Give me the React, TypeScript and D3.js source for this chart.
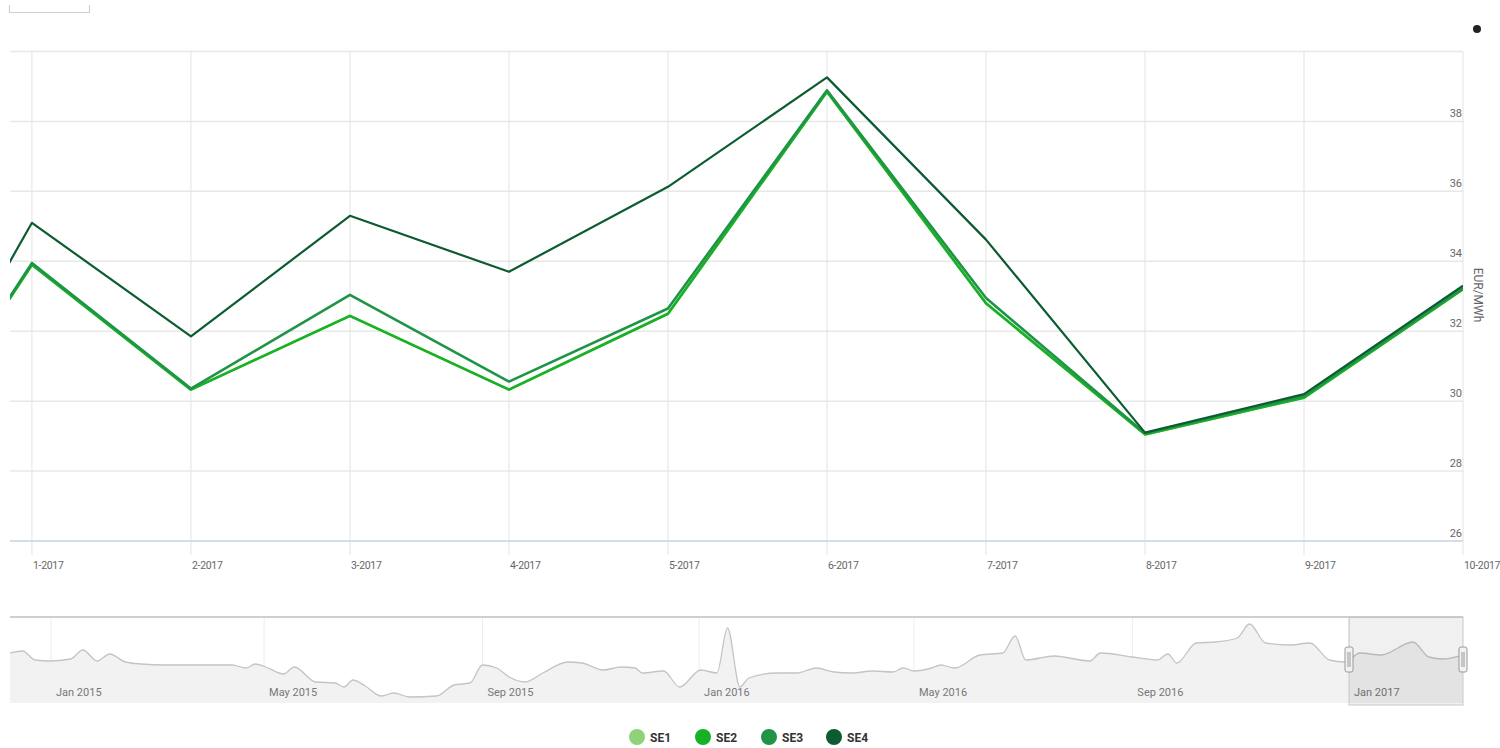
import React from "react";
import * as d3 from "d3";

const categories = ["12-2016", "1-2017", "2-2017", "3-2017", "4-2017", "5-2017", "6-2017", "7-2017", "8-2017", "9-2017", "10-2017"];
const se1 = [27.0, 33.9, 30.33, 32.44, 30.33, 32.5, 38.85, 32.8, 29.05, 30.1, 33.2];
const se2 = [27.0, 33.9, 30.33, 32.44, 30.33, 32.5, 38.85, 32.8, 29.05, 30.1, 33.2];
const se3 = [27.0, 33.95, 30.36, 33.04, 30.56, 32.65, 38.89, 32.95, 29.08, 30.15, 33.24];
const se4 = [27.1, 35.1, 31.85, 35.3, 33.7, 36.13, 39.26, 34.62, 29.1, 30.2, 33.3];
const seriesNames = ["SE1", "SE2", "SE3", "SE4"];
const seriesColors = ["#8fd27a", "#16b124", "#1f9447", "#0d5c31"];
const yTicks = [26, 28, 30, 32, 34, 36, 38, 40];
const yAxisTitle = "EUR/MWh";

const navDates = [
  "2014-12-09", "2014-12-16", "2014-12-23", "2014-12-31", "2015-01-12", "2015-01-19", "2015-01-27", "2015-02-03",
  "2015-02-12", "2015-02-21", "2015-03-06", "2015-04-13", "2015-04-21", "2015-04-26", "2015-05-02", "2015-05-12",
  "2015-05-18", "2015-05-30", "2015-06-10", "2015-06-15", "2015-06-20", "2015-06-27", "2015-07-06", "2015-07-13",
  "2015-07-22", "2015-08-06", "2015-08-16", "2015-08-25", "2015-09-01", "2015-09-09", "2015-09-16", "2015-09-25",
  "2015-10-05", "2015-10-19", "2015-10-27", "2015-11-08", "2015-11-18", "2015-11-26", "2015-11-30", "2015-12-12",
  "2015-12-21", "2016-01-02", "2016-01-11", "2016-01-17", "2016-01-24", "2016-01-29", "2016-02-14", "2016-02-25",
  "2016-03-07", "2016-03-17", "2016-03-27", "2016-04-08", "2016-04-19", "2016-04-25", "2016-05-01", "2016-05-11",
  "2016-05-16", "2016-05-24", "2016-06-07", "2016-06-20", "2016-06-27", "2016-07-03", "2016-07-19", "2016-08-08",
  "2016-08-14", "2016-09-01", "2016-09-15", "2016-09-21", "2016-09-26", "2016-10-07", "2016-10-18", "2016-10-30",
  "2016-11-06", "2016-11-15", "2016-11-29", "2016-12-10", "2016-12-21", "2016-12-30", "2017-01-07", "2017-01-19",
  "2017-02-06", "2017-02-15", "2017-02-23", "2017-03-02", "2017-03-06",
];
const navValues = [
  34.5, 35.5, 31, 30.5, 31.5, 36, 30.5, 34,
  30, 29, 28.5, 28.5, 27, 29, 27.5, 24,
  27.5, 20, 19.5, 17.5, 21, 18, 13, 14.5,
  12.5, 13, 18.5, 19.5, 28.5, 27, 22.5, 20,
  24.5, 30, 29.5, 26, 27.5, 27, 24.5, 25.5,
  17.5, 26, 24.5, 47, 17.5, 22, 24.5, 24.5,
  27, 25, 24.5, 25.5, 25, 27, 25.5, 27,
  28.5, 27, 33.5, 34.5, 43, 31, 33, 30.5,
  34.5, 32.5, 31, 34, 29.5, 39.5, 40, 42,
  49, 39.5, 38.5, 39.5, 31, 30, 34.5, 33.5,
  40, 32.5, 31.5, 32.5, 33.5,
];
const navSelection = ["2017-01-01", "2017-03-06"];

const FONT = "Roboto, 'Noto Sans', sans-serif";

export default function App() {
  const W = 1500, H = 748;
  const left = 10, right = 1463, top = 51.5, bottom = 541;
  const x = d3.scaleLinear().domain([0.862, 10]).range([left, right]);
  const y = d3.scaleLinear().domain([26, 40]).range([bottom, top]);

  const allSeries = [se1, se2, se3, se4];
  const line = d3.line<number>().x((_, i) => x(i)).y((d) => y(d));

  // navigator
  const navTop = 617, navBottom = 703;
  const parse = d3.timeParse("%Y-%m-%d");
  const nx = d3.scaleTime()
    .domain([parse("2015-01-01")!, parse("2017-01-01")!])
    .range([51, 1349]);
  const ny = d3.scaleLinear().domain([10, 50]).range([702, 622]);
  const navPts = navDates.map((d, i) => [nx(parse(d)!), ny(navValues[i])] as [number, number]);
  const navLine = d3.line().curve(d3.curveMonotoneX)(navPts) || "";
  const navArea = d3.area().curve(d3.curveMonotoneX).x((d) => d[0]).y0(navBottom).y1((d) => d[1])(navPts) || "";
  const navTicks = nx.ticks(d3.timeMonth.every(4)!).filter((t) => nx(t) > left && nx(t) < right);
  const navFmt = d3.timeFormat("%b %Y");
  const selX0 = nx(parse(navSelection[0])!);
  const selX1 = right;

  const legendX = [637, 703, 769, 834];

  return (
    <svg width={W} height={H} style={{ position: "absolute", left: 0, top: 0, background: "#fff" }} fontFamily={FONT}>
      <defs>
        <clipPath id="plotClip">
          <rect x={left} y={top - 10} width={right - left} height={bottom - top + 20} />
        </clipPath>
        <clipPath id="navClip">
          <rect x={left} y={navTop} width={right - left} height={navBottom - navTop + 2} />
        </clipPath>
      </defs>

      {/* top-left input remnant */}
      <path d="M9.5,5 V12.5 H89.5 V5" fill="none" stroke="#cfcfcf" strokeWidth={1.2} />

      {/* context dot */}
      <circle cx={1477} cy={29} r={4} fill="#222" />

      {/* horizontal gridlines */}
      {yTicks.map((t) => (
        <line key={"h" + t} x1={left} x2={right} y1={y(t)} y2={y(t)} stroke="#e8e8e8" strokeWidth={1.5} />
      ))}
      {/* vertical gridlines + ticks */}
      {categories.map((c, i) =>
        i === 0 ? null : (
          <g key={"v" + c}>
            <line x1={x(i)} x2={x(i)} y1={top} y2={bottom + 14} stroke="#e3e3e3" strokeWidth={1} />
          </g>
        )
      )}
      {/* x axis line */}
      <line x1={left} x2={right} y1={bottom} y2={bottom} stroke="#ccd6eb" strokeWidth={1.5} />

      {/* x labels */}
      {categories.map((c, i) =>
        i === 0 ? null : (
          <text key={"xl" + c} x={x(i) + 1} y={569} fontSize={10.5} letterSpacing={-0.3} fill="#666" textAnchor="start">
            {c}
          </text>
        )
      )}

      {/* y labels */}
      {yTicks.filter((t) => t < 40).map((t) => (
        <text key={"yl" + t} x={1462} y={y(t) - 4.5} fontSize={11} fill="#666" textAnchor="end">
          {t}
        </text>
      ))}
      <text
        transform={`translate(1474, 295) rotate(90)`}
        fontSize={12}
        fill="#666"
        textAnchor="middle"
      >
        {yAxisTitle}
      </text>

      {/* series lines */}
      <g clipPath="url(#plotClip)">
        {allSeries.map((s, k) => (
          <path
            key={seriesNames[k]}
            d={line(s) || ""}
            fill="none"
            stroke={seriesColors[k]}
            strokeWidth={k === 3 ? 2.2 : 2.6}
            strokeLinejoin="round"
          />
        ))}
      </g>

      {/* navigator */}
      <line x1={left} x2={right} y1={navTop} y2={navTop} stroke="#cfcfcf" strokeWidth={2} />
      {navTicks.map((t) => (
        <g key={"nt" + t.toISOString()}>
          <line x1={nx(t)} x2={nx(t)} y1={navTop + 1} y2={navBottom} stroke="#ececec" strokeWidth={1} />
        </g>
      ))}
      <g clipPath="url(#navClip)">
        <path d={navArea} fill="#f2f2f2" />
        <path d={navLine} fill="none" stroke="#c4c4c4" strokeWidth={1.3} />
      </g>
      {navTicks.map((t) => (
        <text key={"ntl" + t.toISOString()} x={nx(t) + 5} y={696} fontSize={11} fill="#777">
          {navFmt(t)}
        </text>
      ))}
      <rect x={selX0} y={navTop} width={selX1 - selX0} height={navBottom + 2 - navTop} fill="rgba(0,0,0,0.06)" stroke="#c8c8c8" strokeWidth={1} />
      {[selX0, selX1].map((hx, i) => (
        <g key={"h" + i}>
          <rect x={hx - 4} y={647} width={8} height={25} rx={2} fill="#f2f2f2" stroke="#999" strokeWidth={1} />
          <line x1={hx - 1} x2={hx - 1} y1={652} y2={667} stroke="#999" strokeWidth={1} />
          <line x1={hx + 1} x2={hx + 1} y1={652} y2={667} stroke="#999" strokeWidth={1} />
        </g>
      ))}

      {/* legend */}
      {seriesNames.map((n, k) => (
        <g key={"lg" + n}>
          <circle cx={legendX[k]} cy={737} r={8} fill={seriesColors[k]} />
          <text x={legendX[k] + 13} y={742} fontSize={12} fontWeight="bold" fill="#333">
            {n}
          </text>
        </g>
      ))}
    </svg>
  );
}
